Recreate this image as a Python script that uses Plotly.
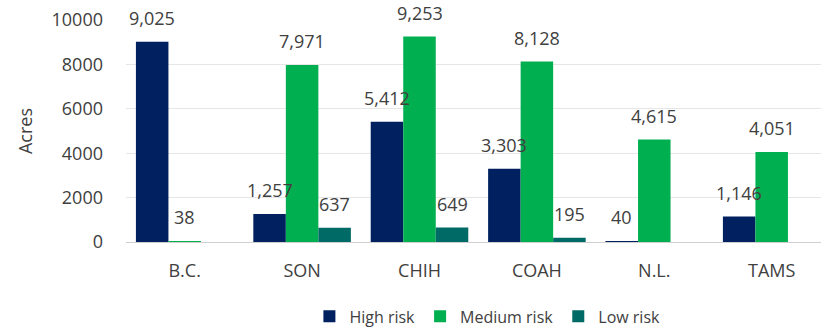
import plotly.graph_objects as go

# Acres by state and risk level
states = ["B.C.", "SON", "CHIH", "COAH", "N.L.", "TAMS"]
high_risk = [9025, 1257, 5412, 3303, 40, 1146]
medium_risk = [38, 7971, 9253, 8128, 4615, 4051]
low_risk = [None, 637, 649, 195, None, None]

series = [
    ("High risk", high_risk, "#002060"),
    ("Medium risk", medium_risk, "#00B050"),
    ("Low risk", low_risk, "#006A66"),
]

FONT = "Open Sans"
TEXT = "#404040"
bar_w = 0.277

fig = go.Figure()
annotations = []
for j, (name, vals, color) in enumerate(series):
    xs = [i + (j - 1) * bar_w for i in range(len(states))]
    fig.add_trace(go.Bar(
        x=xs, y=vals, width=bar_w, name=name,
        marker=dict(color=color, line=dict(width=0)),
    ))
    for x, v in zip(xs, vals):
        if v is None:
            continue
        annotations.append(dict(
            x=x, y=v, xref="x", yref="y", text=f"{v:,}",
            showarrow=False, yanchor="bottom", yshift=10,
            font=dict(family=FONT, size=18, color=TEXT),
        ))

fig.update_layout(
    width=821, height=330,
    margin=dict(l=126, r=0, t=20, b=88, autoexpand=False),
    paper_bgcolor="white", plot_bgcolor="white",
    barmode="overlay",
    font=dict(family=FONT, size=18, color=TEXT),
    annotations=annotations,
    showlegend=True,
    legend=dict(
        orientation="h", x=0.52, xanchor="center", y=-0.335, yanchor="middle",
        font=dict(family=FONT, size=16, color=TEXT),
        itemwidth=30, tracegroupgap=0,
    ),
    xaxis=dict(
        range=[-0.5, 5.42],
        tickmode="array", tickvals=list(range(len(states))), ticktext=states,
        showgrid=False, zeroline=False, showline=False,
        ticks="", ticklabelstandoff=16,
        tickfont=dict(family=FONT, size=18, color=TEXT),
    ),
    yaxis=dict(
        range=[0, 10000], tickvals=[0, 2000, 4000, 6000, 8000, 10000],
        tickformat="d",
        showgrid=True, gridcolor="#E6E6E6", gridwidth=1,
        zeroline=True, zerolinecolor="#CFCFCF", zerolinewidth=1,
        showline=False, ticks="", ticklabelstandoff=22,
        tickfont=dict(family=FONT, size=18, color=TEXT),
        title=dict(text="Acres", standoff=14,
                   font=dict(family=FONT, size=18, color=TEXT)),
    ),
)

fig.write_html("out.html")
